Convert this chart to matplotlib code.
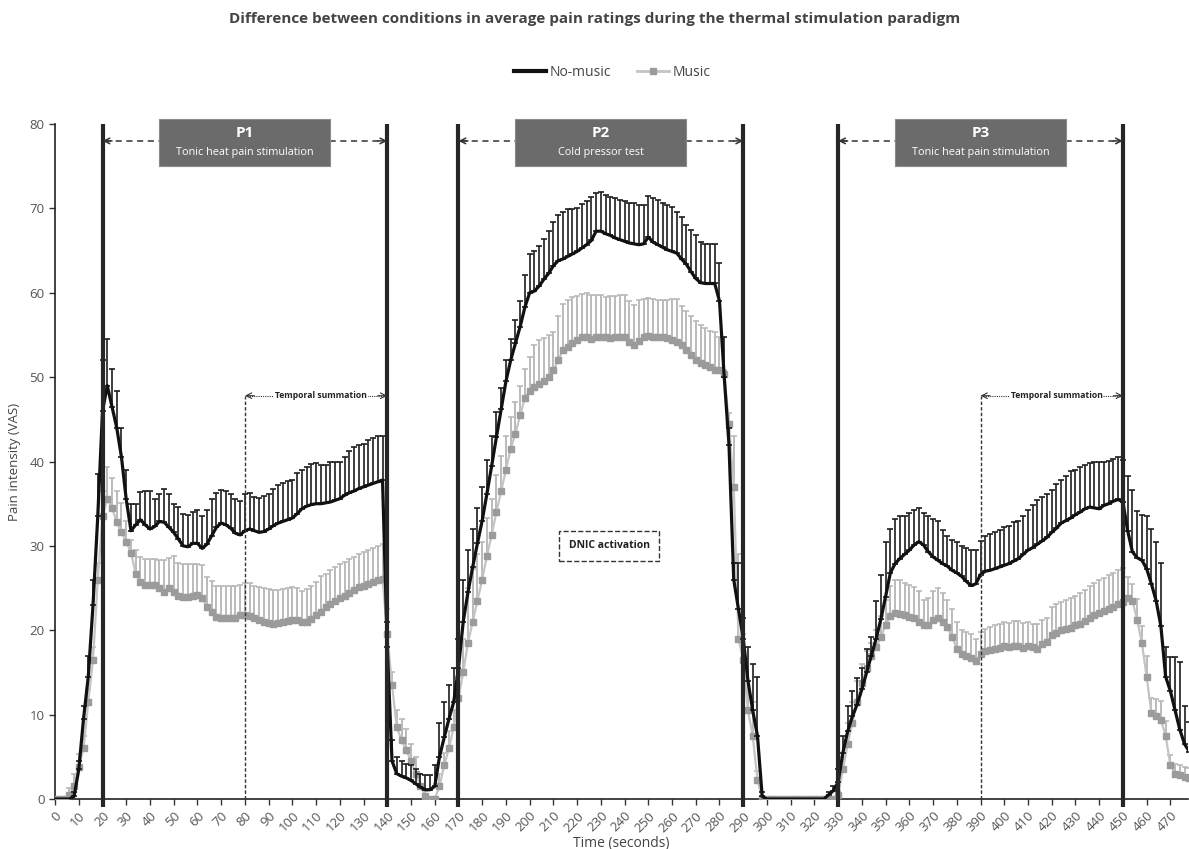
import matplotlib
matplotlib.use("Agg")
import matplotlib.pyplot as plt
from matplotlib.lines import Line2D
from matplotlib.patches import Rectangle
import numpy as np

plt.rcParams["font.family"] = ["Open Sans", "DejaVu Sans"]

# time in seconds, one reading every 2 s
time_s = list(range(0, 480, 2))

# No-music: mean rating and SEM (upper error only)
no_music = [
    0, 0, 0, 0, 0.3, 3.5, 9.5, 14.5, 23.0, 33.5,
    46.0, 49.0, 46.5, 44.0, 40.5, 35.5, 31.8, 32.5, 33.1, 32.5,
    32.0, 32.3, 32.9, 32.8, 32.2, 31.6, 30.8, 30.0, 29.9, 30.3,
    30.3, 29.7, 30.2, 31.2, 32.2, 32.7, 32.5, 32.1, 31.5, 31.3,
    31.8, 32.0, 31.8, 31.6, 31.7, 32.0, 32.4, 32.7, 32.9, 33.1,
    33.3, 33.8, 34.4, 34.7, 34.9, 35.0, 35.0, 35.1, 35.2, 35.4,
    35.6, 36.0, 36.3, 36.5, 36.8, 37.0, 37.2, 37.4, 37.6, 37.8,
    18.0, 4.5, 3.0, 2.7, 2.5, 2.2, 1.8, 1.4, 1.1, 1.1,
    1.5, 5.0, 7.3, 9.5, 11.5, 15.5, 21.0, 24.5, 27.5, 30.3,
    33.0, 36.2, 39.5, 42.9, 46.2, 49.5, 52.0, 54.0, 56.0, 58.3,
    60.0, 60.2, 60.8, 61.6, 62.3, 63.2, 63.8, 64.0, 64.3, 64.6,
    64.9, 65.3, 65.7, 66.2, 67.3, 67.3, 67.0, 66.8, 66.5, 66.3,
    66.1, 65.9, 65.8, 65.7, 65.8, 66.6, 66.0, 65.7, 65.4, 65.1,
    64.9, 64.7, 64.0, 63.4, 62.5, 61.7, 61.2, 61.1, 61.1, 61.1,
    59.0, 50.0, 42.0, 26.0, 22.5, 19.0, 14.0, 10.5, 7.5, 0.3,
    0, 0, 0, 0, 0, 0, 0, 0, 0, 0,
    0, 0, 0, 0.5, 1.0, 2.0, 5.5, 8.0, 9.8, 11.2,
    13.0, 15.0, 17.0, 19.0, 21.3, 24.0, 26.8, 27.9, 28.5, 29.0,
    29.5, 30.1, 30.5, 30.1, 29.3, 28.7, 28.3, 27.9, 27.6, 27.1,
    26.8, 26.4, 25.8, 25.3, 25.5, 26.6, 27.0, 27.1, 27.3, 27.5,
    27.7, 27.9, 28.2, 28.5, 29.0, 29.5, 29.8, 30.2, 30.6, 31.0,
    31.6, 32.1, 32.7, 33.0, 33.3, 33.7, 34.0, 34.4, 34.6, 34.5,
    34.4, 34.8, 35.0, 35.3, 35.5, 35.2, 31.8, 29.3, 28.6, 28.3,
    27.3, 25.5, 23.5, 20.5, 14.5, 12.8, 10.5, 8.2, 6.5, 5.6,
]
no_music_sem = [
    0, 0, 0, 0, 0.5, 1.0, 1.5, 2.5, 3.0, 5.0,
    6.0, 5.5, 4.5, 4.3, 3.5, 3.5, 3.2, 2.5, 3.3, 4.0,
    4.5, 3.2, 3.3, 4.0, 4.0, 3.4, 3.8, 3.8, 3.8, 3.7,
    3.9, 3.8, 4.1, 4.3, 4.1, 3.9, 4.0, 4.1, 4.0, 4.0,
    4.4, 4.3, 4.0, 4.1, 4.2, 4.2, 4.4, 4.5, 4.6, 4.6,
    4.5, 4.8, 4.6, 4.6, 4.8, 4.8, 4.6, 4.5, 4.7, 4.6,
    4.4, 4.5, 4.9, 5.2, 5.1, 5.1, 5.3, 5.4, 5.4, 5.2,
    3.0, 2.5, 2.0, 1.8, 1.7, 1.8, 1.7, 1.6, 1.7, 1.7,
    2.5, 4.0, 4.2, 4.0, 4.0, 3.5, 5.0, 5.0, 4.5, 4.2,
    4.0, 4.0, 3.5, 3.0, 2.5, 2.5, 2.5, 2.8, 3.0, 3.8,
    4.6, 4.7, 4.7, 4.8, 5.0, 5.2, 5.4, 5.6, 5.6, 5.3,
    5.2, 5.2, 5.2, 5.1, 4.5, 4.6, 4.6, 4.6, 4.7, 4.7,
    4.8, 4.8, 4.8, 4.7, 4.6, 4.9, 5.2, 5.3, 5.2, 5.3,
    5.3, 4.9, 5.0, 4.6, 5.0, 5.1, 4.8, 4.7, 4.7, 4.7,
    4.5, 4.8, 2.0, 2.0, 5.5, 2.5, 4.0, 5.5, 7.0, 0.5,
    0, 0, 0, 0, 0, 0, 0, 0, 0, 0,
    0, 0, 0, 0.3, 0.5, 1.5, 2.0, 3.0, 3.0, 3.2,
    2.5, 2.8, 2.2, 4.5, 5.2, 6.5, 5.2, 5.3, 5.0, 4.5,
    4.4, 4.2, 4.0, 3.8, 4.3, 4.5, 4.6, 4.0, 3.6, 3.6,
    3.7, 3.6, 4.0, 4.2, 4.0, 4.0, 4.2, 4.3, 4.3, 4.4,
    4.5, 4.5, 4.6, 4.5, 4.5, 4.7, 5.0, 5.2, 5.2, 5.2,
    5.0, 5.2, 5.1, 5.3, 5.6, 5.3, 5.3, 5.2, 5.2, 5.4,
    5.6, 5.2, 5.1, 5.0, 5.0, 5.0, 6.5, 7.3, 5.5, 5.4,
    6.3, 6.5, 7.0, 7.5, 3.5, 4.0, 6.3, 8.0, 4.5, 3.5,
]

# Music: mean rating and SEM
music = [
    0, 0, 0, 0.5, 1.5, 3.8, 6.0, 11.5, 16.5, 26.0,
    33.5, 35.6, 34.5, 32.8, 31.6, 30.5, 29.2, 26.7, 25.7, 25.4,
    25.4, 25.4, 25.0, 24.5, 25.0, 24.5, 24.1, 24.0, 24.0, 24.1,
    24.2, 23.8, 22.8, 22.2, 21.6, 21.4, 21.4, 21.4, 21.5, 21.8,
    21.8, 21.7, 21.5, 21.2, 21.0, 20.9, 20.8, 20.9, 21.0, 21.1,
    21.2, 21.2, 21.0, 21.0, 21.3, 21.8, 22.2, 22.7, 23.1, 23.5,
    23.8, 24.1, 24.4, 24.8, 25.1, 25.3, 25.5, 25.7, 25.9, 26.1,
    19.5, 13.5, 8.5, 7.0, 5.8, 4.5, 3.0, 1.5, 0.4, 0,
    0, 1.5, 4.0, 6.0, 8.5, 12.0, 15.0, 18.5, 21.0, 23.5,
    26.0, 28.8, 31.3, 34.0, 36.5, 39.0, 41.5, 43.3, 45.5, 47.5,
    48.4, 48.8, 49.2, 49.5, 50.0, 50.8, 52.0, 53.2, 53.6, 54.0,
    54.4, 54.8, 54.8, 54.5, 54.7, 54.8, 54.7, 54.6, 54.7, 54.8,
    54.8, 54.2, 53.8, 54.3, 54.8, 54.9, 54.8, 54.8, 54.8, 54.6,
    54.4, 54.2, 53.8, 53.2, 52.6, 52.0, 51.7, 51.4, 51.2, 50.9,
    50.8, 50.4, 44.5, 37.0, 19.0, 16.5, 10.5, 7.5, 2.3, 0,
    0, 0, 0, 0, 0, 0, 0, 0, 0, 0,
    0, 0, 0, 0, 0, 0.5, 3.5, 6.5, 9.0, 11.5,
    13.8, 15.5, 17.0, 18.0, 19.2, 20.6, 21.7, 22.0, 21.9, 21.8,
    21.6, 21.4, 21.0, 20.6, 20.6, 21.2, 21.4, 21.0, 20.4, 19.2,
    17.8, 17.2, 17.0, 16.7, 16.3, 17.2, 17.5, 17.7, 17.8, 17.9,
    18.1, 18.0, 18.1, 18.1, 17.9, 18.1, 18.0, 17.8, 18.4, 18.6,
    19.4, 19.7, 20.0, 20.2, 20.3, 20.6, 20.8, 21.1, 21.5, 21.8,
    22.0, 22.3, 22.5, 22.8, 23.1, 23.4, 23.8, 23.5, 21.2, 18.5,
    14.5, 10.2, 9.8, 9.4, 7.5, 4.0, 3.0, 2.8, 2.6, 2.5,
]
music_sem = [
    0, 0, 0, 0.8, 1.5, 1.5, 1.5, 1.5, 1.5, 2.0,
    3.0, 3.7, 3.5, 3.7, 3.5, 2.5, 1.5, 2.8, 3.0, 3.1,
    3.1, 3.1, 3.3, 3.8, 3.6, 4.3, 3.9, 3.9, 3.8, 3.7,
    3.6, 3.9, 3.5, 3.6, 3.7, 3.8, 3.8, 3.8, 3.7, 3.6,
    3.8, 3.9, 3.8, 3.9, 4.0, 4.0, 4.0, 3.9, 3.9, 3.9,
    3.9, 3.8, 3.7, 3.9, 4.0, 3.9, 4.2, 4.0, 4.0, 4.0,
    4.0, 4.0, 4.0, 3.9, 3.9, 4.0, 4.0, 4.1, 4.1, 4.1,
    3.0, 1.5, 2.0, 2.5, 2.5, 2.0, 2.0, 1.5, 0.5, 0,
    0, 1.5, 1.5, 2.0, 2.0, 2.5, 4.0, 6.5, 6.3, 5.5,
    4.5, 4.5, 4.3, 4.4, 4.2, 4.0, 3.8, 3.7, 3.5, 3.5,
    4.0, 5.0, 5.2, 5.1, 5.0, 4.6, 5.2, 5.5, 5.5, 5.5,
    5.2, 5.0, 5.2, 5.2, 5.0, 4.9, 4.8, 5.0, 4.9, 4.9,
    4.9, 4.8, 4.7, 4.9, 4.5, 4.5, 4.5, 4.4, 4.3, 4.6,
    4.9, 5.1, 4.6, 4.6, 4.6, 4.7, 4.5, 4.4, 4.3, 4.4,
    4.0, 0.5, 1.2, 6.0, 10.0, 3.0, 3.5, 4.0, 1.0, 0,
    0, 0, 0, 0, 0, 0, 0, 0, 0, 0,
    0, 0, 0, 0, 0, 0.5, 1.5, 2.5, 2.5, 2.5,
    2.2, 2.0, 1.5, 2.0, 2.5, 3.0, 3.5, 4.0, 4.0, 3.8,
    3.8, 3.7, 3.6, 3.0, 3.2, 3.5, 3.6, 3.4, 3.2, 3.3,
    3.2, 2.8, 2.8, 2.8, 2.7, 2.6, 2.7, 2.7, 2.8, 2.8,
    2.9, 2.9, 3.0, 3.0, 3.0, 2.9, 2.8, 2.9, 2.8, 2.9,
    3.4, 3.4, 3.3, 3.4, 3.5, 3.5, 3.6, 3.7, 3.7, 3.8,
    3.9, 3.9, 4.0, 4.0, 4.0, 4.0, 2.5, 2.0, 2.5, 2.0,
    2.5, 1.8, 2.0, 2.2, 1.8, 1.2, 1.2, 1.2, 1.2, 1.2,
]

# paradigm annotations
phase_edges = [20, 140, 170, 290, 330, 450]
phase_names = ["P1", "P2", "P3"]
phase_descr = ["Tonic heat pain stimulation", "Cold pressor test",
               "Tonic heat pain stimulation"]
phase_spans = [(20, 140), (170, 290), (330, 450)]
ts_spans = [(80, 140), (390, 450)]

t = np.array(time_s)
nm, nm_e = np.array(no_music), np.array(no_music_sem)
mu, mu_e = np.array(music), np.array(music_sem)

fig = plt.figure(figsize=(11.89, 8.49), dpi=100)
ax = fig.add_axes([0.0463, 0.0589, 0.953, 0.795])

# music series (grey)
m = mu_e > 0
ax.errorbar(t[m], mu[m], yerr=[np.zeros(m.sum()), mu_e[m]], fmt="none",
            ecolor="#b5b5b5", elinewidth=1.3, capsize=2.2, capthick=1.1, zorder=2)
ax.plot(t, mu, color="#c4c4c4", lw=1.6, marker="s", markersize=4.8,
        markerfacecolor="#9b9b9b", markeredgecolor="#9b9b9b", zorder=3)

# no-music series (black)
m = nm_e > 0
ax.errorbar(t[m], nm[m], yerr=[np.zeros(m.sum()), nm_e[m]], fmt="none",
            ecolor="#1e1e1e", elinewidth=1.2, capsize=2.2, capthick=1.2, zorder=4)
ax.plot(t, nm, color="#111111", lw=2.3, zorder=5)

# phase boundaries
ax.vlines(phase_edges, -0.9, 80, colors="#262626", lw=3, zorder=6, clip_on=False)

def double_arrow(x0, x1, y, ls, lw, col="#333333"):
    ax.plot([x0 + 1, x1 - 1], [y, y], ls=ls, lw=lw, color=col, zorder=6)
    for a, b in ((x0, x0 + 4), (x1, x1 - 4)):
        ax.annotate("", xy=(a, y), xytext=(b, y),
                    arrowprops=dict(arrowstyle="->", lw=lw, color=col,
                                    shrinkA=0, shrinkB=0), zorder=6)

for (a, b), name, descr in zip(phase_spans, phase_names, phase_descr):
    double_arrow(a, b, 78.0, (0, (4, 3)), 1.1)
    cx = (a + b) / 2
    ax.add_patch(Rectangle((cx - 36, 75.0), 72, 5.6, facecolor="#6b6b6b",
                           edgecolor="#8a8a8a", lw=0.8, zorder=7, clip_on=False))
    ax.text(cx, 78.9, name, ha="center", va="center", color="white",
            fontsize=11, fontweight="bold", zorder=8)
    ax.text(cx, 76.6, descr, ha="center", va="center", color="white",
            fontsize=7.8, zorder=8)

# temporal summation markers
for a, b in ts_spans:
    ax.plot([a, a], [0, 47.8], ls=(0, (2.5, 1.5)), lw=1.0, color="#333333", zorder=6)
    double_arrow(a, b, 47.8, (0, (1, 1)), 0.8)
    ax.text((a + b) / 2 + 2, 47.8, "Temporal summation", ha="center", va="center",
            fontsize=6.2, fontweight="bold", color="#222222",
            bbox=dict(facecolor="white", edgecolor="none", pad=0.6), zorder=7)

# DNIC box
ax.text(233.5, 30.0, "DNIC activation", ha="center", va="center", fontsize=7.5,
        fontweight="bold", color="#222222", zorder=7,
        bbox=dict(boxstyle="square,pad=0.9", facecolor="white",
                  edgecolor="#333333", ls="--", lw=1.0))

ax.set_xlim(0, 477.5)
ax.set_ylim(0, 80)
ax.set_xticks(range(0, 480, 10))
ax.set_yticks(range(0, 90, 10))
for lab in ax.get_xticklabels():
    lab.set_rotation(45)
    lab.set_ha("right")
    lab.set_rotation_mode("anchor")
ax.tick_params(axis="both", labelsize=9.5, labelcolor="#555555", color="#333333",
               length=4, width=1)
ax.spines["top"].set_visible(False)
ax.spines["right"].set_visible(False)
for s in ("left", "bottom"):
    ax.spines[s].set_linewidth(1.2)
    ax.spines[s].set_color("#222222")
ax.set_xlabel("Time (seconds)", fontsize=10, color="#444444", labelpad=1)
ax.set_ylabel("Pain intensity (VAS)", fontsize=9.5, color="#444444", labelpad=6)

fig.text(0.5, 0.978, "Difference between conditions in average pain ratings during "
         "the thermal stimulation paradigm", ha="center", va="center",
         fontsize=11, fontweight="bold", color="#444444")

handles = [
    Line2D([], [], color="#111111", lw=3),
    Line2D([], [], color="#c4c4c4", lw=2, marker="s", markersize=4.5,
           markerfacecolor="#9b9b9b", markeredgecolor="#9b9b9b"),
]
fig.legend(handles, ["No-music", "Music"], loc="center", ncol=2,
           bbox_to_anchor=(0.515, 0.915), frameon=False, fontsize=10,
           handlelength=2.3, handletextpad=0.3, columnspacing=1.8,
           labelcolor="#444444")

fig.savefig("out.png", dpi=100)
